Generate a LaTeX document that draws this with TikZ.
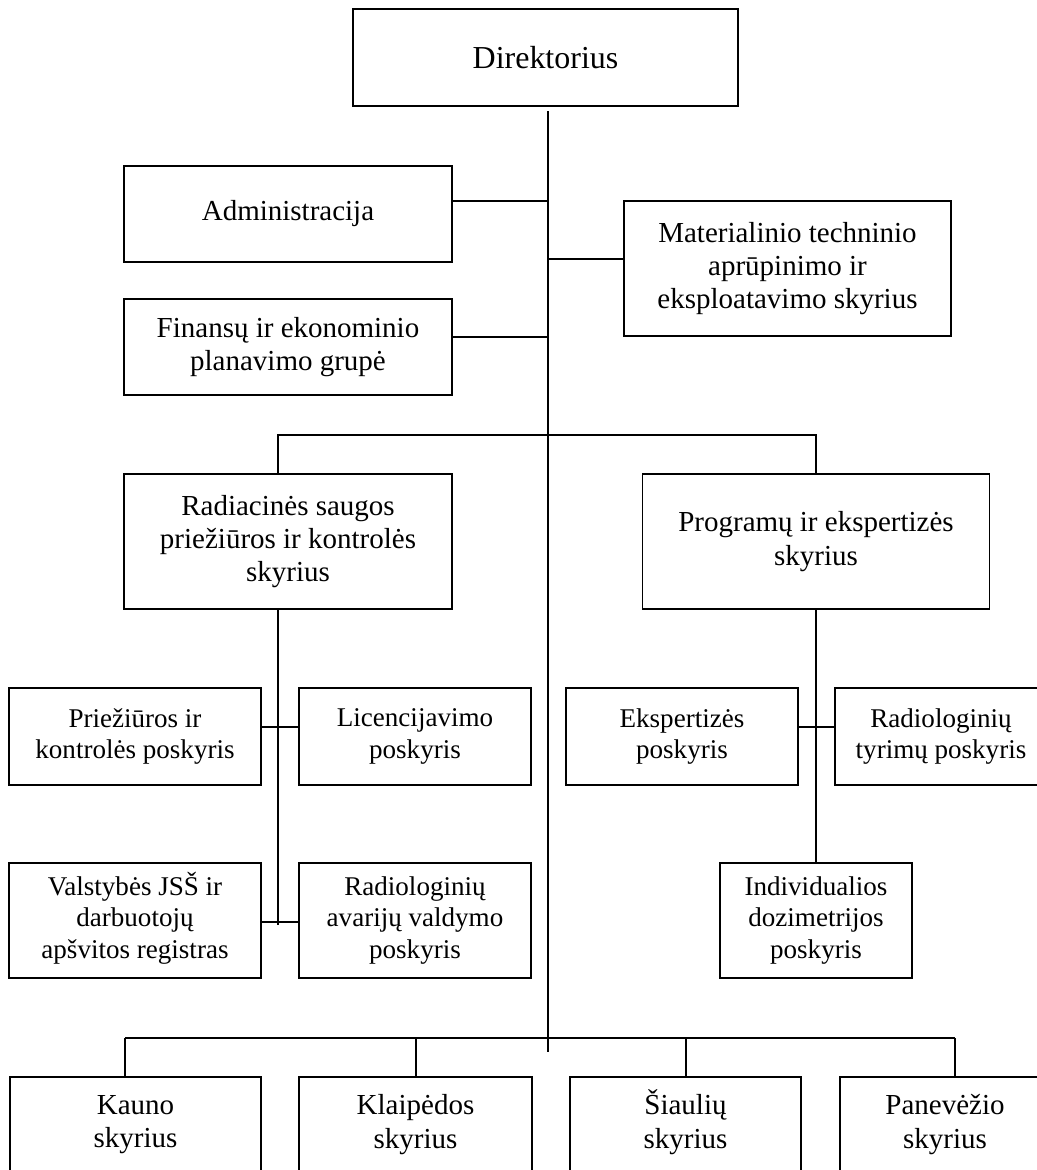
\documentclass[tikz,border=0pt]{standalone}
\usepackage{fontspec}
\setmainfont{Liberation Serif}

\tikzset{
  box/.style 2 args={draw, line width=0.75pt, align=center, inner sep=0pt,
    minimum width=#1, minimum height=#2},
  big/.style={font=\fontsize{18.2}{21}\selectfont},
  mid/.style={font=\fontsize{16.5}{19}\selectfont},
  small/.style={font=\fontsize{15.4}{18}\selectfont},
  link/.style={line width=0.6pt},
}

\begin{document}
\begin{tikzpicture}[x=0.02cm,y=-0.02cm]
    \useasboundingbox (0,0) rectangle (1037,1170);
    % upper part
    \node[box={7.70cm}{1.94cm},big] (dir) at (545.5,57.5) {Direktorius};
    \node[box={6.56cm}{1.92cm},mid] (adm) at (288,214) {Administracija};
    \node[box={6.54cm}{2.70cm},mid] (mat) at (787.5,268.5) {Materialinio techninio\\aprūpinimo ir\\eksploatavimo skyrius};
    \node[box={6.56cm}{1.92cm},mid] (fin) at (288,347) {Finansų ir ekonominio\\planavimo grupė};
    \node[box={6.56cm}{2.70cm},mid] (rad) at (288,541.5) {Radiacinės saugos\\priežiūros ir kontrolės\\skyrius};
    \node[box={6.94cm}{2.70cm},mid] (prog) at (816,541.5) {Programų ir ekspertizės\\skyrius};
    % poskyriai
    \node[box={5.04cm}{1.94cm},small] (prie) at (135,736.5) {Priežiūros ir\\kontrolės poskyris};
    \node[box={4.64cm}{1.94cm},small] (lic) at (415,736.5) {Licencijavimo\\poskyris};
    \node[box={5.04cm}{2.30cm},small] (val) at (135,920.5) {Valstybės JS\smash{Š} ir\\darbuotojų\\apšvitos registras};
    \node[box={4.64cm}{2.30cm},small] (avar) at (415,920.5) {Radiologinių\\avarijų valdymo\\poskyris};
    \node[box={4.64cm}{1.94cm},small] (eksp) at (682,736.5) {Ekspertizės\\poskyris};
    \node[box={4.24cm}{1.94cm},small] (tyr) at (941,736.5) {Radiologinių\\tyrimų poskyris};
    \node[box={3.84cm}{2.30cm},small] (ind) at (816,920.5) {Individualios\\dozimetrijos\\poskyris};
    % regional branches
    \node[box={5.02cm}{1.90cm},mid] (kau) at (135.5,1124.5) {Kauno\\skyrius};
    \node[box={4.66cm}{1.90cm},mid] (kla) at (415.5,1124.5) {Klaipėdos\\skyrius};
    \node[box={4.62cm}{1.90cm},mid] (sia) at (685.5,1124.5) {\smash{Š}iaulių\\skyrius};
    \node[box={4.20cm}{1.90cm},mid] (pan) at (945,1124.5) {Panevėžio\\skyrius};

    \coordinate (top) at (548,111);
    \coordinate (bot) at (548,1052);
    \coordinate (sAdm) at (548,201);
    \coordinate (sMat) at (548,259);
    \coordinate (sFin) at (548,337);
    \coordinate (sMid) at (548,435);
    \coordinate (lBr) at (278,435);
    \coordinate (lPrie) at (278,727);
    \coordinate (lVal) at (278,922);
    \coordinate (lEnd) at (278,925);
    \coordinate (rEksp) at (816,727);
    \coordinate (b1) at (125,1038);
    \coordinate (b2) at (416,1038);
    \coordinate (b3) at (686,1038);
    \coordinate (b4) at (955,1038);

    \draw[link] (top) -- (bot);
    \draw[link] (sAdm) -- (sAdm -| adm.east);
    \draw[link] (sMat) -- (sMat -| mat.west);
    \draw[link] (sFin) -- (sFin -| fin.east);
    \draw[link] (lBr |- rad.north) -- (lBr) -- (sMid) -| (prog.north);
    \draw[link] (lBr |- rad.south) -- (lEnd);
    \draw[link] (lPrie -| prie.east) -- (lPrie -| lic.west);
    \draw[link] (lVal -| val.east) -- (lVal -| avar.west);
    \draw[link] (prog.south) -- (ind.north);
    \draw[link] (rEksp -| eksp.east) -- (rEksp -| tyr.west);
    \draw[link] (b1) -- (b4);
    \foreach \b/\n in {b1/kau,b2/kla,b3/sia,b4/pan}
        \draw[link] (\b) -- (\b |- \n.north);
\end{tikzpicture}
\end{document}
